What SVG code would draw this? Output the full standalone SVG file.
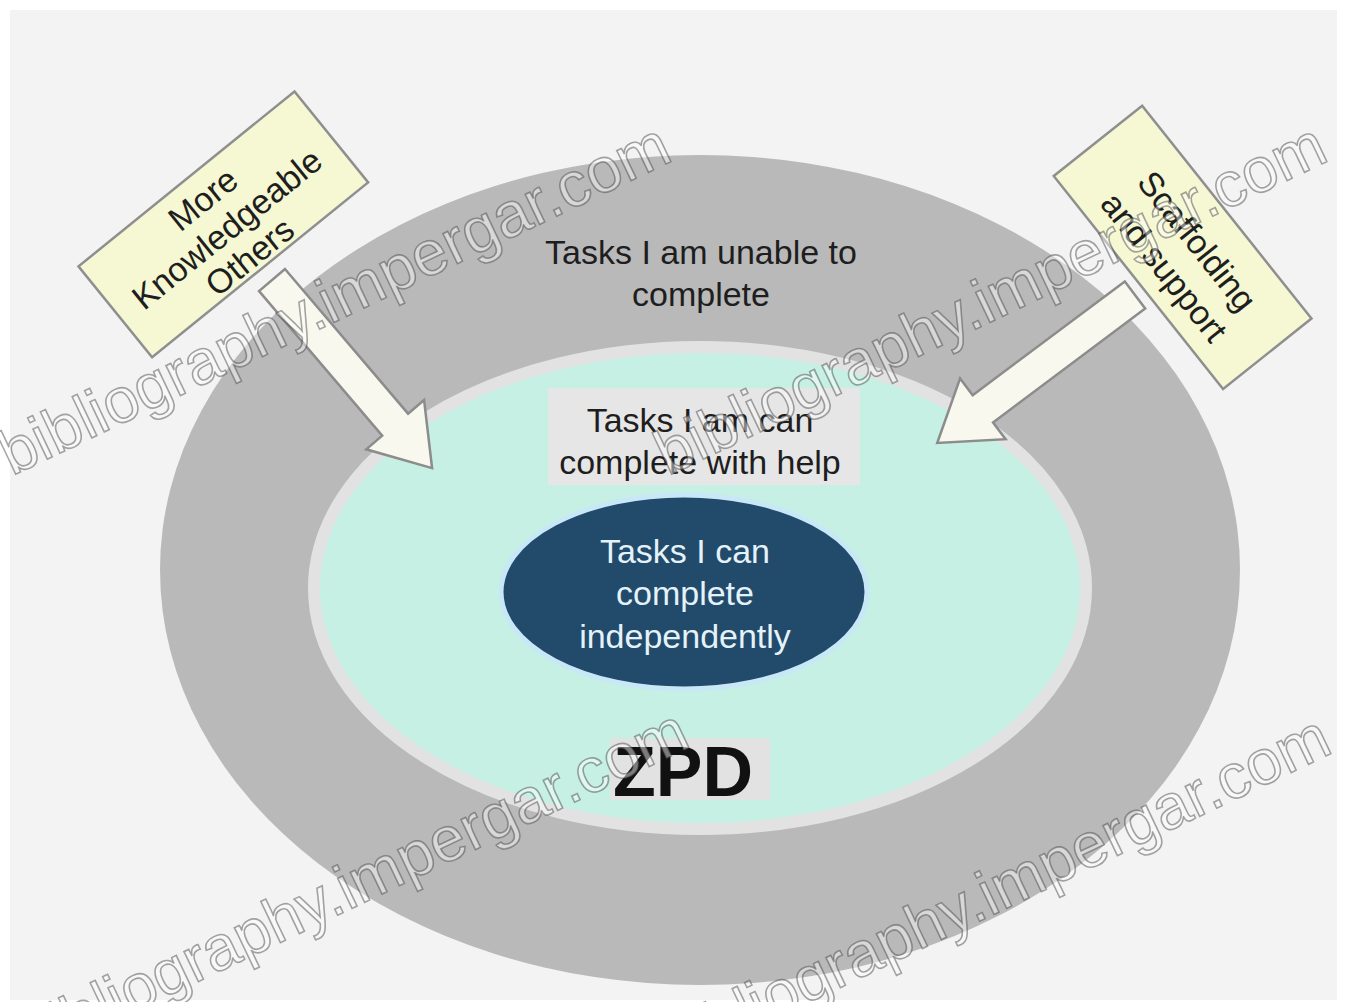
<svg xmlns="http://www.w3.org/2000/svg" width="1347" height="1002" viewBox="0 0 1347 1002">
<style>
.t{font-family:"Liberation Sans",Arial,sans-serif;font-size:34px;fill:#1e1e1e;text-anchor:middle}
.w{fill:#e4f2f9}
.lab{fill:#f5f8d2;stroke:#8f8f8f;stroke-width:2.5}
.arr{fill:#f8f8ee;stroke:#8c8c8c;stroke-width:2.5;stroke-linejoin:miter}
.wm{font-family:"Liberation Sans",Arial,sans-serif;font-size:63px;fill:#ffffff;fill-opacity:0.45;stroke:#3a3a3a;stroke-opacity:0.45;stroke-width:1.6}
</style>
<defs>
<path id="blk" d="M0,-17 L190,-17 L190,-38 L247,0 L190,38 L190,17 L0,17 Z"/>
</defs>
<rect x="0" y="0" width="1347" height="1002" fill="#ffffff"/>
<rect x="10" y="10" width="1327" height="990" fill="#f3f3f3"/>
<g id="outer">
<ellipse cx="700" cy="570" rx="540" ry="415" fill="#b9b9b9"/>
<text class="t" x="701" y="264">Tasks I am unable to</text>
<text class="t" x="701" y="306">complete</text>
</g>
<g id="zpd">
<ellipse cx="700" cy="588" rx="386" ry="241" fill="#c6f0e3" stroke="#e2e2e2" stroke-width="12"/>
<rect x="548" y="388" width="312" height="97" fill="#e6e6e6"/>
<text class="t" x="700" y="432">Tasks I am can</text>
<text class="t" x="700" y="474">complete with help</text>
<rect x="610" y="738" width="160" height="62" fill="#e2e2e2"/>
<text class="t" x="683" y="796" style="font-size:70px;font-weight:bold;fill:#111">ZPD</text>
</g>
<g id="independent">
<ellipse cx="684" cy="592" rx="183" ry="97" fill="#224a6a" stroke="#c8e8f8" stroke-width="5"/>
<text class="t w" x="685" y="563">Tasks I can</text>
<text class="t w" x="685" y="605">complete</text>
<text class="t w" x="685" y="648">independently</text>
</g>
<g id="connectors">
<use href="#blk" class="arr" transform="translate(272,280) rotate(49.6)"/>
<use href="#blk" class="arr" transform="translate(1135,295) rotate(143.2)"/>
</g>
<g id="mko" transform="translate(223,224) rotate(-39)">
<rect class="lab" x="-139" y="-58" width="278" height="117"/>
<text class="t" x="0" y="-20">More</text>
<text class="t" x="0" y="18">Knowledgeable</text>
<text class="t" x="0" y="54">Others</text>
</g>
<g id="scaffold" transform="translate(1183,247) rotate(51.5)">
<rect class="lab" x="-136" y="-56" width="272" height="113"/>
<text class="t" x="4" y="-3">Scaffolding</text>
<text class="t" x="4" y="39">and support</text>
</g>
<g id="watermark">
<text class="wm" transform="translate(12,476) rotate(-25.5)">bibliography.impergar.com</text>
<text class="wm" transform="translate(668,476) rotate(-25.5)">bibliography.impergar.com</text>
<text class="wm" transform="translate(30,1062) rotate(-25.5)">bibliography.impergar.com</text>
<text class="wm" transform="translate(672,1068) rotate(-25.5)">bibliography.impergar.com</text>
</g>
</svg>
